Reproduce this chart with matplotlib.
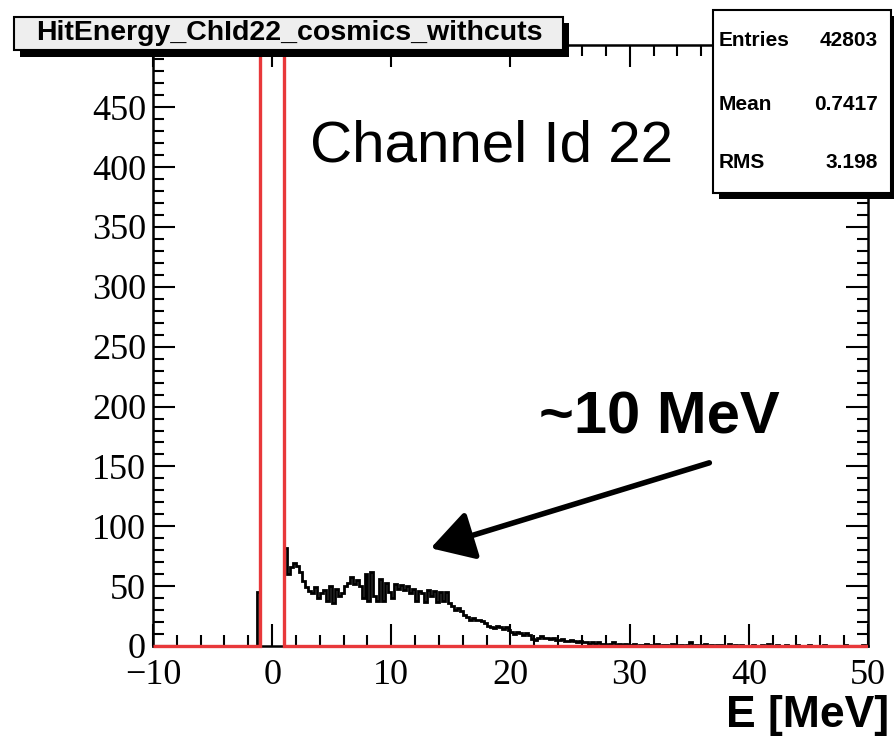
import matplotlib
matplotlib.use("Agg")
import matplotlib.pyplot as plt
from matplotlib.patches import Rectangle, FancyArrowPatch
from matplotlib.ticker import MultipleLocator, FuncFormatter
from matplotlib.transforms import Bbox, TransformedBbox
import numpy as np

# histogram binning (ROOT TH1: 240 bins on [-10, 50])
x_low, x_high, bin_width = -10.0, 50.0, 0.25

# counts per bin, read bin by bin
n_empty_left = 35                       # [-10, -1.25)
pre_peak_counts = [45]                  # [-1.25, -1.0)
peak_counts = [2300, 5400, 7600, 8400, 7700, 5200, 2100, 1000]   # [-1, 1)
tail_counts = [
    # 1.00 - 10.25
    82, 60, 66, 69, 67, 62, 54, 49, 46, 44, 49, 40, 44, 47, 38, 50, 36, 48, 42, 44,
    50, 53, 58, 52, 55, 50, 40, 60, 38, 62, 42, 38, 56, 38, 53, 45, 40, 52,
    # 10.50 - 20.25
    48, 51, 47, 50, 44, 48, 38, 46, 44, 37, 47, 42, 46, 37, 45, 38, 45, 36, 33, 30,
    32, 29, 26, 24, 22, 23, 22, 22, 21, 19, 17, 16, 15, 17, 16, 14, 16, 13, 12, 10,
    # 20.50 - 29.75
    12, 11, 9, 11, 9, 6, 5, 7, 8, 7, 7, 6, 7, 5, 5, 6, 4, 4, 5, 4,
    3, 4, 3, 3, 2, 3, 2, 3, 2, 2, 1, 2, 3, 1, 2, 1, 2, 1,
    # 30.00 - 49.75
    1, 2, 0, 1, 1, 2, 1, 0, 1, 2, 0, 1, 1, 0, 2, 1, 0, 1, 0, 1,
    3, 0, 1, 0, 1, 2, 0, 1, 0, 1, 1, 0, 0, 2, 0, 1, 0, 1, 0, 0,
    0, 1, 0, 0, 1, 0, 2, 0, 0, 1, 0, 0, 1, 0, 0, 0, 1, 0, 0, 0,
    1, 0, 0, 0, 0, 1, 0, 0, 0, 0, 0, 0, 1, 0, 0, 0, 0, 0, 1, 0,
]

stat_names = ["Entries", "Mean", "RMS"]
stat_values = ["42803", "0.7417", "3.198"]

hist_name = "HitEnergy_ChId22_cosmics_withcuts"

n_bins = int(round((x_high - x_low) / bin_width))
edges = np.linspace(x_low, x_high, n_bins + 1)
counts = np.array([0] * n_empty_left + pre_peak_counts + peak_counts + tail_counts, dtype=float)
in_peak = (edges[:-1] >= -1.0) & (edges[:-1] < 1.0)
peak_only = np.where(in_peak, counts, 0.0)

W, H = 894, 745
fig = plt.figure(figsize=(W / 100, H / 100), dpi=100)


def fx(px):
    return px / W


def fy(py):
    return 1 - py / H


ax = fig.add_axes([fx(153), fy(646), fx(868) - fx(153), fy(45) - fy(646)])
ax.stairs(counts, edges, color="black", lw=2.0, zorder=3)
red = ax.stairs(peak_only, edges, color="#e8383a", lw=2.4, zorder=4)
# let the red zero line show fully over the bottom frame
red.set_clip_box(TransformedBbox(Bbox([[0, -0.01], [1, 1]]), ax.transAxes))

ax.set_xlim(x_low, x_high)
ax.set_ylim(0, 502)
ax.xaxis.set_major_locator(MultipleLocator(10))
ax.xaxis.set_minor_locator(MultipleLocator(2))
ax.yaxis.set_major_locator(MultipleLocator(50))
ax.yaxis.set_minor_locator(MultipleLocator(10))
# the 500 label sits under the title box
ax.yaxis.set_major_formatter(FuncFormatter(lambda v, pos: "" if v > 460 else f"{v:.0f}"))
ax.xaxis.set_major_formatter(FuncFormatter(lambda v, pos: f"{v:.0f}".replace("-", "\u2212")))
ax.tick_params(which="both", direction="in", top=True, right=True, width=1.5)
ax.tick_params(which="major", length=16)
ax.tick_params(which="minor", length=8)
ax.tick_params(axis="x", pad=9)
ax.tick_params(axis="y", pad=5)
for spine in ax.spines.values():
    spine.set_linewidth(1.8)
for lab in ax.get_xticklabels() + ax.get_yticklabels():
    lab.set_fontfamily("Liberation Serif")
    lab.set_fontsize(26)

# title box with shadow
fig.add_artist(Rectangle((fx(20), fy(57)), fx(569) - fx(20), fy(23) - fy(57),
                         transform=fig.transFigure, facecolor="black", edgecolor="none", zorder=5))
fig.add_artist(Rectangle((fx(14), fy(50)), fx(563) - fx(14), fy(17) - fy(50),
                         transform=fig.transFigure, facecolor="#eeeeee", edgecolor="black",
                         lw=1.5, zorder=6))
fig.text(fx(289), fy(33), hist_name, ha="center", va="center", fontsize=20.5,
         fontweight="bold", family="Liberation Sans", zorder=7)

# stats box with shadow
fig.add_artist(Rectangle((fx(719), fy(199)), fx(899) - fx(719), fy(16) - fy(199),
                         transform=fig.transFigure, facecolor="black", edgecolor="none", zorder=5))
fig.add_artist(Rectangle((fx(713), fy(193)), fx(891) - fx(713), fy(10) - fy(193),
                         transform=fig.transFigure, facecolor="white", edgecolor="black",
                         lw=1.5, zorder=6))
for name, value, py in zip(stat_names, stat_values, [41, 105, 163]):
    fig.text(fx(719), fy(py), name, ha="left", va="center", fontsize=15,
             fontweight="bold", family="Liberation Sans", zorder=7)
    fig.text(fx(878), fy(py), value, ha="right", va="center", fontsize=15,
             fontweight="bold", family="Liberation Sans", zorder=7)

fig.text(fx(492), fy(146), "Channel Id 22", ha="center", va="center", fontsize=42,
         family="Liberation Sans")
fig.text(fx(659), fy(418), "~10 MeV", ha="center", va="center", fontsize=43,
         fontweight="bold", family="Liberation Sans")
fig.text(fx(808), fy(716), "E [MeV]", ha="center", va="center", fontsize=32,
         fontweight="bold", family="Liberation Sans")

fig.add_artist(FancyArrowPatch((fx(712), fy(462)), (fx(428), fy(549)),
                               transform=fig.transFigure,
                               arrowstyle="-|>,head_length=0.65,head_width=0.38",
                               mutation_scale=40, lw=4, color="black", zorder=8))

fig.savefig("out.png", dpi=100)
